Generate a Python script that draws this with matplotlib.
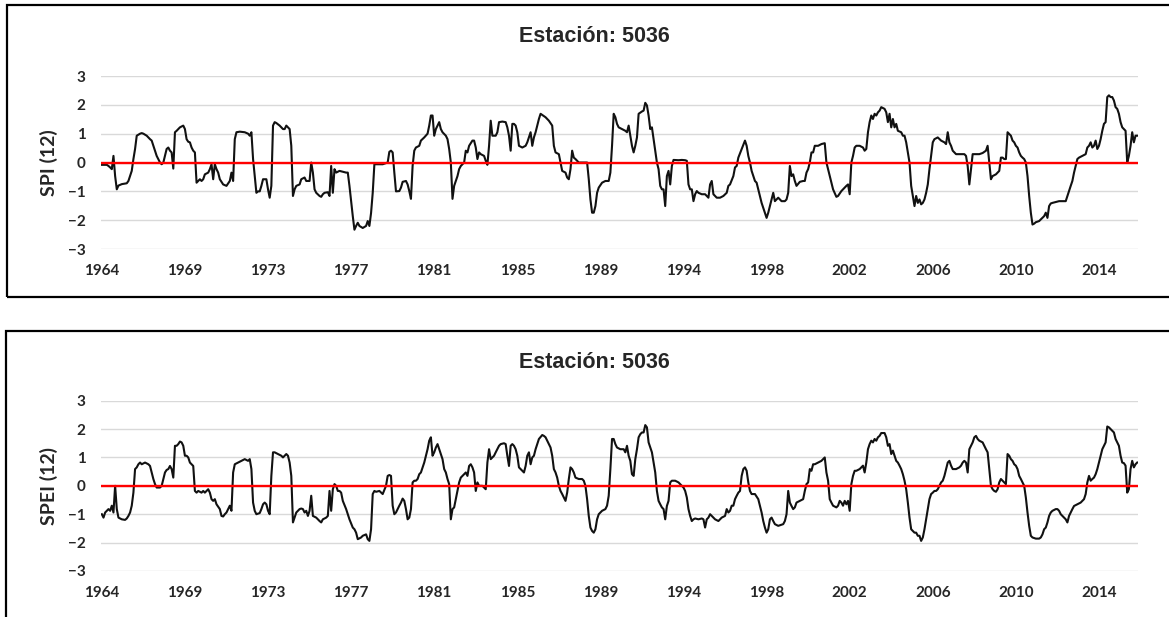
import matplotlib
matplotlib.use("Agg")
import matplotlib.pyplot as plt
from matplotlib.patches import Rectangle

# meses contados desde dic-1964 (eje de categorías de Excel)
anios = ["1964", "1969", "1973", "1977", "1981", "1985", "1989",
         "1994", "1998", "2002", "2006", "2010", "2014"]
pos_anios = [0, 50, 100, 150, 200, 250, 300, 350, 400, 450, 500, 550, 600]
n_meses = 624

spi_12 = [
    (0, -0.08), (3, -0.08), (4, -0.12), (5, -0.17), (6, -0.23), (7, 0.23), (8, -0.47), (9, -0.93),
    (10, -0.8), (12, -0.75), (15, -0.72), (16, -0.64), (17, -0.47), (18, -0.29), (19, 0.12), (20, 0.47),
    (21, 0.93), (23, 1.0), (24, 1.02), (25, 1.0), (27, 0.93), (29, 0.81), (30, 0.76), (31, 0.58),
    (33, 0.23), (35, 0.0), (36, -0.06), (37, 0.0), (38, 0.23), (39, 0.47), (40, 0.52), (41, 0.41),
    (42, 0.35), (43, -0.21), (44, 1.05), (45, 1.1), (47, 1.22), (49, 1.28), (50, 1.16), (51, 0.81),
    (52, 0.72), (53, 0.7), (54, 0.52), (55, 0.41), (56, 0.35), (57, -0.7), (58, -0.64), (59, -0.58),
    (60, -0.64), (61, -0.58), (62, -0.41), (63, -0.38), (64, -0.35), (65, -0.23), (66, -0.06), (67, -0.58),
    (68, -0.06), (69, -0.23), (70, -0.35), (71, -0.58), (73, -0.76), (75, -0.81), (77, -0.64), (78, -0.35),
    (79, -0.64), (80, 0.81), (81, 1.05), (83, 1.07), (86, 1.05), (88, 1.0), (89, 0.93), (90, 1.05),
    (91, 0.12), (92, -0.47), (93, -1.05), (94, -1.0), (95, -1.0), (96, -0.81), (97, -0.58), (99, -0.58),
    (100, -0.93), (101, -1.22), (102, -0.81), (103, 1.28), (104, 1.4), (105, 1.37), (107, 1.28), (109, 1.16),
    (110, 1.16), (111, 1.28), (112, 1.22), (113, 1.16), (114, 0.58), (115, -1.16), (116, -0.93), (117, -0.81),
    (119, -0.76), (120, -0.58), (122, -0.52), (123, -0.64), (125, -0.64), (126, 0.0), (127, -0.35), (128, -0.93),
    (129, -1.05), (131, -1.16), (132, -1.19), (133, -1.1), (134, -1.05), (136, -1.03), (137, -1.16), (138, -0.12),
    (139, -1.05), (140, -0.23), (141, -0.35), (143, -0.29), (147, -0.35), (148, -0.35), (149, -0.81), (151, -1.86),
    (152, -2.33), (153, -2.2), (154, -2.09), (155, -2.2), (157, -2.27), (159, -2.2), (160, -2.03), (161, -2.2),
    (162, -1.75), (163, -1.05), (164, -0.06), (165, -0.06), (169, -0.06), (171, -0.02), (172, 0.0), (173, 0.37),
    (174, 0.41), (175, 0.35), (176, -0.35), (177, -1.0), (179, -0.99), (180, -0.87), (181, -0.67), (183, -0.64),
    (184, -0.76), (185, -0.99), (186, -1.26), (187, -0.12), (188, 0.41), (189, 0.52), (191, 0.58), (192, 0.76),
    (194, 0.87), (196, 1.0), (197, 1.28), (198, 1.63), (199, 1.63), (200, 0.93), (201, 1.16), (203, 1.4),
    (204, 1.16), (205, 1.05), (207, 0.93), (208, 0.81), (209, 0.47), (210, 0.0), (211, -1.26), (212, -0.81),
    (213, -0.64), (214, -0.47), (215, -0.23), (216, -0.12), (217, -0.06), (218, 0.0), (219, 0.41), (220, 0.35),
    (221, 0.58), (223, 0.76), (224, 0.76), (225, 0.52), (226, 0.12), (227, 0.35), (228, 0.29), (230, 0.23),
    (231, 0.06), (232, -0.08), (233, 0.58), (234, 1.45), (235, 0.93), (237, 0.93), (238, 1.05), (239, 1.4),
    (241, 1.42), (243, 1.4), (244, 1.22), (245, 0.93), (246, 0.41), (247, 1.34), (248, 1.34), (249, 1.28),
    (250, 1.05), (251, 0.58), (253, 0.52), (255, 0.58), (256, 0.7), (257, 0.87), (258, 1.05), (259, 0.58),
    (260, 0.87), (261, 1.05), (262, 1.28), (263, 1.51), (264, 1.69), (265, 1.65), (267, 1.57), (269, 1.45),
    (271, 1.28), (272, 0.58), (273, 0.35), (275, 0.29), (276, 0.0), (277, -0.29), (279, -0.35), (280, -0.52),
    (281, -0.58), (282, -0.23), (283, 0.41), (284, 0.17), (285, 0.12), (287, 0.0), (292, 0.0), (293, -0.58),
    (294, -1.28), (295, -1.74), (296, -1.74), (297, -1.51), (298, -1.05), (299, -0.87), (301, -0.7), (303, -0.64),
    (305, -0.64), (306, -0.35), (307, 0.58), (308, 1.69), (309, 1.57), (310, 1.34), (311, 1.22), (313, 1.16),
    (315, 1.1), (316, 1.05), (317, 1.28), (318, 0.93), (319, 0.58), (320, 0.35), (321, 0.58), (322, 0.87),
    (323, 1.69), (325, 1.77), (326, 1.8), (327, 2.07), (328, 1.98), (329, 1.63), (330, 1.16), (331, 1.22),
    (332, 0.81), (333, 0.41), (334, 0.0), (335, -0.23), (336, -0.81), (337, -0.93), (338, -0.93), (339, -1.51),
    (340, -0.47), (341, -0.29), (342, -0.76), (343, -0.12), (344, 0.09), (347, 0.08), (349, 0.09), (351, 0.08),
    (352, 0.06), (353, -0.76), (354, -0.93), (355, -0.93), (356, -1.34), (357, -1.1), (358, -0.99), (359, -1.05),
    (361, -1.1), (363, -1.1), (365, -1.22), (366, -0.76), (367, -0.64), (368, -1.1), (370, -1.22), (372, -1.22),
    (374, -1.16), (376, -1.05), (377, -0.81), (378, -0.76), (380, -0.47), (381, -0.17), (382, -0.12), (383, 0.17),
    (385, 0.47), (387, 0.76), (388, 0.58), (389, 0.23), (390, 0.0), (391, -0.29), (393, -0.64), (394, -0.7),
    (395, -0.93), (397, -1.4), (399, -1.74), (400, -1.92), (401, -1.74), (402, -1.51), (403, -1.28), (404, -1.05),
    (405, -1.34), (407, -1.22), (409, -1.34), (411, -1.34), (412, -1.28), (413, -1.05), (414, -0.12), (415, -0.47),
    (416, -0.41), (417, -0.64), (418, -0.81), (420, -0.67), (422, -0.64), (423, -0.64), (424, -0.35), (425, -0.23),
    (426, 0.0), (427, 0.35), (428, 0.35), (429, 0.58), (431, 0.58), (433, 0.64), (435, 0.67), (436, 0.0),
    (437, -0.23), (438, -0.47), (439, -0.7), (440, -0.93), (442, -1.19), (443, -1.16), (445, -0.99), (446, -0.93),
    (448, -0.81), (449, -0.76), (450, -1.1), (451, 0.0), (452, 0.23), (453, 0.52), (454, 0.58), (456, 0.58),
    (458, 0.52), (459, 0.41), (460, 0.47), (461, 1.05), (462, 1.4), (463, 1.63), (464, 1.51), (465, 1.69),
    (466, 1.63), (467, 1.74), (468, 1.8), (469, 1.92), (471, 1.86), (472, 1.74), (473, 1.4), (474, 1.69),
    (475, 1.22), (476, 1.51), (477, 1.22), (478, 1.34), (479, 1.1), (481, 1.05), (482, 0.93), (483, 0.93),
    (484, 0.7), (485, 0.35), (486, 0.0), (487, -0.81), (488, -1.16), (489, -1.51), (490, -1.16), (491, -1.4),
    (492, -1.28), (493, -1.45), (494, -1.4), (495, -1.28), (496, -1.05), (497, -0.76), (498, -0.23), (499, 0.23),
    (500, 0.7), (501, 0.81), (503, 0.87), (505, 0.76), (507, 0.7), (508, 0.64), (509, 1.05), (510, 0.7),
    (511, 0.58), (512, 0.41), (514, 0.29), (516, 0.29), (519, 0.29), (520, 0.23), (521, -0.12), (522, -0.76),
    (523, -0.23), (524, 0.29), (526, 0.29), (528, 0.29), (530, 0.33), (532, 0.41), (533, 0.58), (534, 0.0),
    (535, -0.58), (536, -0.47), (538, -0.41), (540, -0.29), (541, 0.17), (542, 0.17), (543, 0.12), (544, 0.12),
    (545, 1.05), (546, 0.99), (547, 0.93), (548, 0.76), (549, 0.7), (550, 0.58), (551, 0.52), (552, 0.35),
    (553, 0.23), (554, 0.17), (555, 0.12), (556, 0.0), (557, -0.47), (558, -1.16), (559, -1.74), (560, -2.15),
    (561, -2.12), (562, -2.07), (564, -2.03), (566, -1.92), (567, -1.86), (568, -1.74), (569, -1.92), (570, -1.51),
    (571, -1.42), (572, -1.4), (574, -1.37), (576, -1.34), (578, -1.34), (580, -1.34), (581, -1.16), (582, -0.99),
    (583, -0.81), (584, -0.64), (585, -0.35), (587, 0.12), (588, 0.17), (590, 0.23), (592, 0.29), (593, 0.52),
    (594, 0.58), (595, 0.7), (596, 0.52), (597, 0.58), (598, 0.76), (599, 0.47), (600, 0.58), (601, 0.81),
    (602, 1.1), (603, 1.34), (604, 1.4), (605, 2.27), (606, 2.33), (607, 2.27), (608, 2.27), (609, 2.15),
    (610, 1.92), (611, 1.86), (612, 1.69), (613, 1.4), (614, 1.22), (615, 1.16), (616, 1.1), (617, 0.0),
    (618, 0.23), (619, 0.58), (620, 1.05), (621, 0.7), (622, 0.93), (623, 0.93),
]

spei_12 = [
    (0, -1.0), (1, -1.12), (2, -0.94), (3, -0.88), (4, -0.82), (5, -0.88), (6, -0.7), (7, -0.94),
    (8, 0.0), (9, -0.82), (10, -1.12), (12, -1.18), (14, -1.2), (15, -1.15), (16, -1.06), (17, -0.94),
    (18, -0.7), (19, -0.24), (20, 0.59), (21, 0.65), (22, 0.76), (23, 0.82), (24, 0.76), (26, 0.82),
    (28, 0.76), (29, 0.7), (30, 0.47), (31, 0.24), (32, 0.06), (33, -0.06), (35, -0.06), (36, 0.0),
    (37, 0.24), (38, 0.47), (39, 0.56), (40, 0.59), (41, 0.7), (42, 0.59), (43, 0.29), (44, 1.41),
    (45, 1.41), (46, 1.47), (47, 1.56), (48, 1.53), (49, 1.41), (50, 1.06), (51, 1.06), (52, 1.0),
    (53, 0.82), (54, 0.76), (55, 0.7), (56, -0.18), (57, -0.24), (58, -0.18), (60, -0.24), (61, -0.18),
    (62, -0.24), (63, -0.18), (64, -0.12), (65, -0.24), (66, -0.47), (67, -0.53), (68, -0.47), (69, -0.65),
    (71, -0.82), (72, -1.06), (73, -1.08), (74, -1.0), (75, -0.94), (76, -0.82), (77, -0.7), (78, -0.88),
    (79, 0.47), (80, 0.76), (82, 0.82), (84, 0.88), (86, 0.94), (88, 0.88), (89, 0.94), (90, 0.59),
    (91, -0.59), (92, -0.88), (93, -1.0), (95, -0.96), (96, -0.82), (97, -0.65), (98, -0.59), (99, -0.65),
    (100, -0.88), (101, -1.0), (102, 0.35), (103, 1.18), (104, 1.18), (106, 1.12), (108, 1.06), (109, 1.0),
    (110, 1.06), (111, 1.12), (112, 1.06), (113, 0.82), (114, 0.35), (115, -1.29), (116, -1.12), (117, -0.94),
    (119, -0.82), (120, -0.8), (121, -0.82), (122, -0.94), (123, -0.88), (124, -1.06), (125, -0.88), (126, -0.35),
    (127, -1.06), (129, -1.12), (131, -1.24), (132, -1.29), (133, -1.18), (135, -1.12), (136, -1.06), (137, -0.18),
    (138, -0.88), (139, -0.12), (140, 0.06), (141, 0.0), (142, -0.18), (143, -0.18), (144, -0.24), (145, -0.53),
    (147, -0.82), (149, -1.18), (151, -1.47), (152, -1.53), (153, -1.65), (154, -1.88), (156, -1.82), (157, -1.76),
    (159, -1.71), (160, -1.88), (161, -1.94), (162, -1.53), (163, -0.29), (164, -0.18), (165, -0.21), (167, -0.18),
    (169, -0.29), (171, 0.0), (172, 0.35), (173, 0.38), (174, 0.35), (175, -0.7), (176, -1.0), (177, -0.94),
    (178, -0.82), (179, -0.7), (180, -0.59), (181, -0.45), (182, -0.53), (183, -0.82), (184, -1.18), (185, -1.12),
    (186, -0.82), (187, 0.12), (188, 0.18), (189, 0.18), (190, 0.24), (191, 0.41), (192, 0.47), (194, 0.82),
    (195, 1.06), (196, 1.29), (197, 1.59), (198, 1.71), (199, 1.06), (200, 1.18), (201, 1.35), (202, 1.47),
    (203, 1.29), (204, 1.12), (205, 0.94), (206, 0.59), (207, 0.47), (208, 0.24), (209, 0.06), (210, -1.18),
    (211, -0.82), (212, -0.76), (213, -0.47), (214, -0.18), (215, 0.12), (216, 0.29), (217, 0.35), (218, 0.41),
    (219, 0.47), (220, 0.35), (221, 0.7), (222, 0.76), (223, 0.65), (224, 0.47), (225, -0.18), (226, 0.12),
    (227, 0.0), (229, 0.0), (230, -0.06), (231, -0.12), (232, 0.82), (233, 1.29), (234, 0.94), (235, 1.0),
    (236, 1.06), (237, 1.18), (239, 1.41), (240, 1.47), (242, 1.5), (243, 1.47), (244, 1.06), (245, 0.7),
    (246, 1.41), (247, 1.47), (248, 1.41), (249, 1.29), (250, 1.06), (251, 0.65), (253, 0.53), (254, 0.47),
    (255, 0.7), (256, 1.06), (257, 1.18), (258, 0.76), (259, 1.0), (260, 1.06), (261, 1.29), (262, 1.47),
    (263, 1.65), (265, 1.79), (266, 1.76), (267, 1.71), (268, 1.59), (269, 1.47), (270, 1.35), (271, 1.06),
    (272, 0.59), (273, 0.47), (274, 0.29), (275, 0.0), (276, -0.18), (277, -0.29), (278, -0.41), (279, -0.53),
    (280, -0.24), (281, 0.24), (282, 0.65), (283, 0.59), (284, 0.47), (285, 0.29), (287, 0.24), (289, 0.24),
    (290, 0.18), (291, 0.0), (292, -0.47), (293, -1.06), (294, -1.47), (295, -1.59), (296, -1.65), (297, -1.53),
    (298, -1.18), (299, -1.0), (301, -0.88), (303, -0.82), (304, -0.7), (305, -0.35), (306, 0.59), (307, 1.65),
    (308, 1.65), (309, 1.47), (310, 1.35), (312, 1.29), (314, 1.29), (315, 1.18), (316, 1.41), (317, 1.06),
    (318, 0.88), (319, 0.41), (320, 0.35), (321, 0.94), (322, 1.29), (323, 1.71), (324, 1.82), (325, 1.88),
    (326, 1.88), (327, 2.14), (328, 2.06), (329, 1.53), (330, 1.35), (331, 1.18), (332, 0.82), (333, 0.47),
    (334, -0.18), (335, -0.53), (336, -0.65), (337, -0.76), (338, -0.82), (339, -1.18), (340, -0.71), (341, -0.53),
    (342, 0.12), (343, 0.18), (345, 0.18), (347, 0.12), (348, 0.06), (349, 0.0), (350, -0.06), (351, -0.18),
    (352, -0.41), (353, -0.82), (354, -1.06), (355, -1.24), (356, -1.18), (357, -1.15), (359, -1.18), (361, -1.15),
    (362, -1.18), (363, -1.47), (364, -1.18), (365, -1.12), (366, -1.0), (367, -1.06), (368, -1.12), (369, -1.18),
    (371, -1.24), (373, -1.12), (375, -1.06), (376, -0.82), (377, -0.94), (378, -0.88), (379, -0.7), (380, -0.7),
    (381, -0.47), (382, -0.35), (383, -0.24), (384, -0.18), (385, 0.35), (386, 0.59), (387, 0.65), (388, 0.53),
    (389, 0.12), (390, -0.18), (391, -0.29), (393, -0.29), (395, -0.47), (396, -0.71), (397, -0.94), (398, -1.24),
    (399, -1.47), (400, -1.65), (401, -1.53), (402, -1.18), (403, -1.12), (404, -1.24), (405, -1.35), (407, -1.41),
    (410, -1.35), (411, -1.24), (412, -1.0), (413, -0.18), (414, -0.59), (415, -0.71), (416, -0.82), (417, -0.76),
    (418, -0.59), (420, -0.53), (422, -0.47), (423, -0.18), (424, 0.06), (425, 0.12), (426, 0.59), (427, 0.53),
    (428, 0.76), (429, 0.76), (431, 0.82), (433, 0.88), (434, 0.94), (435, 1.0), (436, 0.47), (437, 0.18),
    (438, -0.47), (439, -0.59), (440, -0.7), (442, -0.76), (443, -0.7), (444, -0.53), (445, -0.59), (446, -0.7),
    (447, -0.53), (448, -0.65), (449, -0.53), (450, -0.88), (451, 0.06), (452, 0.35), (453, 0.53), (454, 0.53),
    (456, 0.59), (458, 0.71), (459, 0.47), (460, 0.82), (461, 1.29), (462, 1.47), (463, 1.59), (464, 1.53),
    (465, 1.65), (466, 1.59), (467, 1.71), (468, 1.76), (469, 1.86), (471, 1.86), (472, 1.71), (473, 1.41),
    (474, 1.47), (475, 1.12), (476, 1.24), (477, 1.06), (478, 0.88), (479, 0.82), (480, 0.71), (481, 0.59),
    (482, 0.41), (483, 0.18), (484, -0.12), (485, -0.59), (486, -1.12), (487, -1.53), (488, -1.59), (489, -1.65),
    (490, -1.65), (491, -1.76), (492, -1.76), (493, -1.94), (494, -1.82), (495, -1.53), (496, -1.18), (497, -0.82),
    (498, -0.47), (499, -0.29), (500, -0.24), (501, -0.18), (502, -0.18), (503, -0.12), (504, 0.0), (505, 0.12),
    (506, 0.18), (507, 0.35), (508, 0.59), (509, 0.82), (510, 0.88), (511, 0.71), (512, 0.59), (514, 0.59),
    (516, 0.65), (517, 0.71), (518, 0.82), (519, 0.88), (520, 0.82), (521, 0.47), (522, 1.29), (523, 1.41),
    (524, 1.53), (525, 1.71), (526, 1.76), (527, 1.65), (528, 1.59), (530, 1.53), (531, 1.41), (532, 1.29),
    (533, 1.18), (534, 0.59), (535, 0.0), (536, -0.12), (537, -0.18), (538, -0.21), (539, -0.12), (540, 0.12),
    (541, 0.24), (542, 0.18), (543, 0.12), (544, 0.06), (545, 1.12), (546, 1.06), (547, 0.94), (548, 0.88),
    (549, 0.76), (550, 0.71), (551, 0.59), (552, 0.35), (553, 0.24), (554, 0.12), (555, 0.0), (556, -0.41),
    (557, -0.94), (558, -1.41), (559, -1.76), (560, -1.82), (562, -1.86), (564, -1.86), (565, -1.82), (566, -1.71),
    (567, -1.53), (568, -1.47), (569, -1.29), (570, -1.06), (571, -0.94), (572, -0.88), (574, -0.82), (575, -0.82),
    (576, -0.88), (577, -1.0), (578, -1.06), (579, -1.12), (580, -1.18), (581, -1.29), (582, -1.06), (583, -0.94),
    (584, -0.82), (585, -0.71), (587, -0.65), (589, -0.59), (591, -0.47), (592, -0.29), (593, 0.12), (594, 0.35),
    (595, 0.18), (596, 0.24), (597, 0.29), (598, 0.41), (599, 0.59), (600, 0.82), (601, 1.06), (602, 1.29),
    (603, 1.41), (604, 1.53), (605, 2.09), (606, 2.06), (607, 2.0), (608, 1.94), (609, 1.88), (610, 1.65),
    (611, 1.53), (612, 1.41), (613, 1.06), (614, 0.82), (615, 0.8), (616, 0.71), (617, -0.24), (618, -0.12),
    (619, 0.59), (620, 0.88), (621, 0.65), (622, 0.76), (623, 0.82),
]

paneles = [
    ("SPI (12)", spi_12, [0.0864, 0.5964, 0.8871, 0.2804], 37, (7, 5, 297)),
    ("SPEI (12)", spei_12, [0.0864, 0.0746, 0.8871, 0.2760], 362, (6, 331, 700)),
]

fig = plt.figure(figsize=(11.69, 6.17), dpi=100)
W, H = 1169, 617

for etiqueta, serie, rect, y_titulo, caja in paneles:
    ax = fig.add_axes(rect)
    meses = [m for m, v in serie]
    valores = [v for m, v in serie]
    ax.plot(meses, valores, color="#111111", lw=1.5, zorder=3)
    ax.axhline(0, color="#ff0000", lw=1.7, zorder=4)
    ax.set_xlim(-0.5, n_meses - 0.5)
    ax.set_ylim(-3, 3)
    ax.set_yticks(range(-3, 4))
    ax.set_xticks(pos_anios)
    ax.set_xticklabels(anios)
    ax.grid(axis="y", color="#d9d9d9", lw=1.0)
    ax.set_axisbelow(True)
    for s in ax.spines.values():
        s.set_visible(False)
    ax.tick_params(length=0)
    ax.tick_params(axis="x", pad=11)
    ax.tick_params(axis="y", pad=11)
    for t in ax.get_xticklabels() + ax.get_yticklabels():
        t.set_fontfamily("Lato")
        t.set_fontweight("bold")
        t.set_fontsize(11)
        t.set_color("#262626")
    ax.set_ylabel(etiqueta, fontdict={"family": "Lato", "weight": "bold", "size": 14, "color": "#262626"},
                  labelpad=7)
    fig.text(594 / W, 1 - y_titulo / H, "Estación: 5036", ha="center", va="center",
             fontsize=15.5, fontweight="bold", family="Liberation Sans", color="#262626")
    x0, y_top, y_bot = caja
    fig.patches.append(Rectangle((x0 / W, 1 - y_bot / H), 1.2, (y_bot - y_top) / H,
                                 transform=fig.transFigure, fill=False, edgecolor="black",
                                 lw=1.6, clip_on=False))

fig.savefig("out.png", dpi=100, facecolor="white")
